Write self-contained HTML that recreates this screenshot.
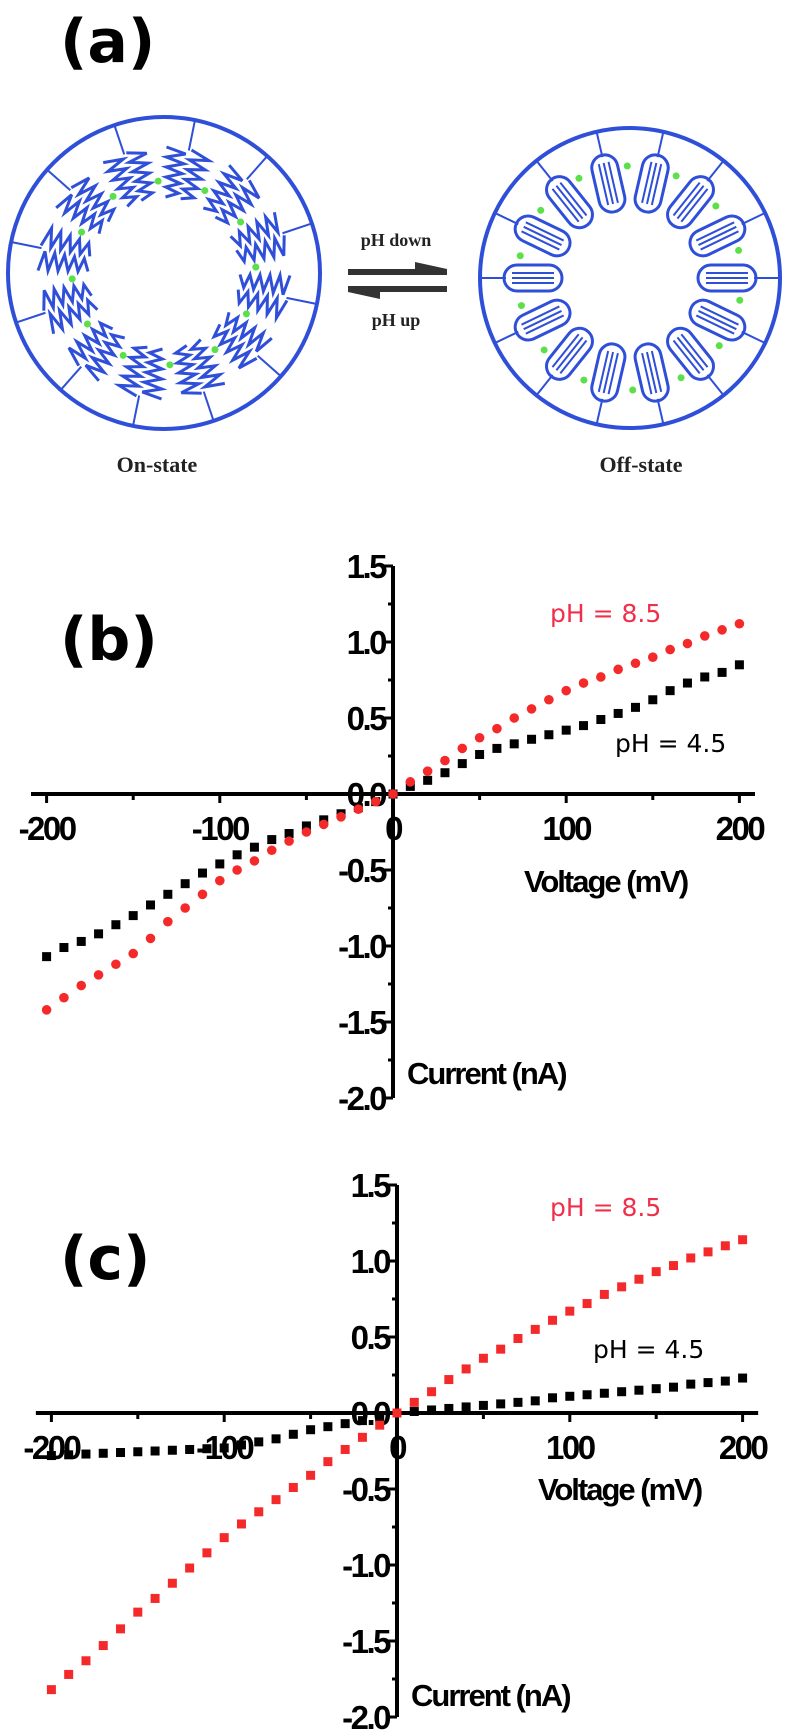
<!DOCTYPE html>
<html><head><meta charset="utf-8">
<style>
html,body{margin:0;padding:0;background:#fff;}
svg{display:block;}
.tk{font-family:"Liberation Sans",sans-serif;font-weight:bold;font-size:33px;letter-spacing:-2.5px;fill:#000;}
.ttl{font-family:"Liberation Sans",sans-serif;font-weight:bold;font-size:31px;letter-spacing:-2px;fill:#000;}
.ph{font-family:"DejaVu Sans","Liberation Sans",sans-serif;font-size:25px;}
.pl{font-family:"DejaVu Sans","Liberation Sans",sans-serif;font-weight:bold;font-size:60px;fill:#000;}
.serif{font-family:"Liberation Serif",serif;font-weight:bold;fill:#222;}
</style></head>
<body>
<svg id="fig" width="787" height="1733" viewBox="0 0 787 1733" xmlns="http://www.w3.org/2000/svg">
  <g id="panelA">
    <text class="pl" x="60" y="62">(a)</text>
    <circle cx="164" cy="273" r="156" fill="none" stroke="#2f4fd9" stroke-width="4"/>
    <circle cx="630" cy="278" r="150" fill="none" stroke="#2f4fd9" stroke-width="4"/>
    <g id="onPoly"></g>
    <g id="offPoly"></g>
    <text class="serif" x="396" y="246" font-size="18" text-anchor="middle">pH down</text>
    <g>
      <path d="M348 269 L447 269 L447 275 L348 275 Z M415 262 L447 269 L415 269 Z" fill="#333"/>
      <path d="M348 286 L447 286 L447 292 L348 292 Z M380 299 L348 292 L380 292 Z" fill="#333"/>
    </g>
    <text class="serif" x="396" y="326" font-size="18" text-anchor="middle">pH up</text>
    <text class="serif" x="157" y="472" font-size="22" text-anchor="middle">On-state</text>
    <text class="serif" x="641" y="472" font-size="22" text-anchor="middle">Off-state</text>
  </g>
  <g id="chartB"></g>
  <g id="chartC"></g>
</svg>
<script>
const voltages = [-200,-190,-180,-170,-160,-150,-140,-130,-120,-110,-100,-90,-80,-70,-60,-50,-40,-30,-20,-10,0,10,20,30,40,50,60,70,80,90,100,110,120,130,140,150,160,170,180,190,200];
const bRedPH85 = [-1.42,-1.34,-1.26,-1.19,-1.12,-1.05,-0.95,-0.84,-0.75,-0.66,-0.57,-0.50,-0.44,-0.37,-0.31,-0.25,-0.20,-0.15,-0.10,-0.05,0.00,0.08,0.15,0.22,0.30,0.37,0.43,0.50,0.56,0.62,0.68,0.73,0.77,0.82,0.86,0.90,0.95,0.99,1.04,1.08,1.12];
const bBlackPH45 = [-1.07,-1.01,-0.97,-0.92,-0.86,-0.80,-0.73,-0.66,-0.59,-0.52,-0.46,-0.40,-0.35,-0.30,-0.26,-0.21,-0.17,-0.13,-0.09,-0.05,0.00,0.05,0.09,0.14,0.20,0.26,0.30,0.33,0.36,0.39,0.42,0.45,0.49,0.53,0.57,0.62,0.68,0.73,0.77,0.80,0.85];
const cRedPH85 = [-1.82,-1.72,-1.63,-1.53,-1.42,-1.31,-1.22,-1.12,-1.02,-0.92,-0.82,-0.73,-0.65,-0.57,-0.49,-0.41,-0.32,-0.24,-0.16,-0.08,0.00,0.07,0.14,0.22,0.29,0.36,0.42,0.49,0.55,0.61,0.67,0.72,0.78,0.83,0.88,0.93,0.97,1.02,1.06,1.10,1.14];
const cBlackPH45 = [-0.28,-0.275,-0.27,-0.265,-0.26,-0.255,-0.25,-0.245,-0.24,-0.235,-0.23,-0.21,-0.19,-0.17,-0.14,-0.11,-0.09,-0.07,-0.05,-0.03,0.00,0.01,0.02,0.03,0.04,0.05,0.06,0.07,0.08,0.10,0.11,0.12,0.13,0.14,0.15,0.16,0.17,0.19,0.20,0.21,0.23];
const xTicks = [-200,-100,0,100,200];
const yTicks = [1.5,1.0,0.5,0.0,-0.5,-1.0,-1.5,-2.0];

const NS = "http://www.w3.org/2000/svg";
function mk(tag, attrs, parent){
  const e = document.createElementNS(NS, tag);
  for (const k in attrs) e.setAttribute(k, attrs[k]);
  parent.appendChild(e);
  return e;
}

function drawChart(gid, ax, panelLabel, redVals, blackVals, redShape){
  const g = document.getElementById(gid);
  const xs = v => ax.x0 + v * ax.kx;
  const ys = v => ax.y0 - v * ax.ky;
  const xl = mk('line', {x1:xs(-209), y1:ys(0), x2:xs(209), y2:ys(0), stroke:'#000','stroke-width':4}, g);
  
  
  const yl = mk('line', {x1:xs(0), y1:ys(1.5), x2:xs(0), y2:ys(-2.0), stroke:'#000','stroke-width':4}, g);
  
  
  for (let v = -200; v <= 200; v += 50) {
    const major = v % 100 === 0;
    const t = mk('line', {x1:xs(v), y1:ys(0), x2:xs(v), y2:ys(0)+(major?9:6), stroke:'#000','stroke-width':3}, g);
    
    
  }
  for (let v = -2.0; v <= 1.51; v += 0.25) {
    const major = Math.abs(v*2 - Math.round(v*2)) < 1e-6;
    const t = mk('line', {x1:xs(0)-(major?9:5), y1:ys(v), x2:xs(0), y2:ys(v), stroke:'#000','stroke-width':3}, g);
    
    
  }
  xTicks.forEach(v => {
    const t = mk('text', {x:xs(v), y:ys(0)+46, 'text-anchor':'middle', class:'tk'}, g);
    t.textContent = String(v);
    
    
  });
  yTicks.forEach(v => {
    const t = mk('text', {x:xs(0)-8, y:ys(v)+12, 'text-anchor':'end', class:'tk'}, g);
    t.textContent = v.toFixed(1);
    
    
  });
  const sb = mk('g', {}, g);
  
  
  voltages.forEach((v, i) => {
    const r = mk('rect', {x:xs(v)-4.5, y:ys(blackVals[i])-4.5, width:9, height:9, fill:'#000'}, sb);
    
    
  });
  const sr = mk('g', {}, g);
  
  
  voltages.forEach((v, i) => {
    let p;
    if (redShape === 'circle') p = mk('circle', {cx:xs(v), cy:ys(redVals[i]), r:4.8, fill:'#f42a2a'}, sr);
    else p = mk('rect', {x:xs(v)-4.5, y:ys(redVals[i])-4.5, width:9, height:9, fill:'#f42a2a'}, sr);
    
    
  });
  const pl = mk('text', {x:ax.lx, y:ax.ly, class:'pl'}, g);
  pl.textContent = panelLabel;
  
  
  const l1 = mk('text', {x:ax.r1x, y:ax.r1y, class:'ph', fill:'#f0304a'}, g);
  l1.textContent = 'pH = 8.5';
  
  
  const l2 = mk('text', {x:ax.b1x, y:ax.b1y, class:'ph', fill:'#000'}, g);
  l2.textContent = 'pH = 4.5';
  
  
  const xt = mk('text', {x:ax.vx, y:ax.vy, class:'ttl'}, g);
  xt.textContent = 'Voltage (mV)';
  
  
  const yt = mk('text', {x:xs(0)+14, y:ax.cy, class:'ttl'}, g);
  yt.textContent = 'Current (nA)';
  
  
}

drawChart('chartB', {x0:393, kx:1.732, y0:794, ky:152, lx:60, ly:660, r1x:550, r1y:622, b1x:615, b1y:752, vx:524, vy:892, cy:1084}, '(b)', bRedPH85, bBlackPH45, 'circle');
drawChart('chartC', {x0:397, kx:1.728, y0:1413, ky:152, lx:60, ly:1279, r1x:550, r1y:1216, b1x:593, b1y:1358, vx:538, vy:1500, cy:1706}, '(c)', cRedPH85, cBlackPH45, 'square');

(function(){
  const on = document.getElementById('onPoly');
  const blue = '#2f4fd9';
  const cx = 164, cy = 273;
  for (let i = 0; i < 12; i++) {
    const a = i * Math.PI * 2 / 12 + 0.2;
    const c = Math.cos(a), s = Math.sin(a);
    const anchor = mk('line', {x1:cx+c*156, y1:cy+s*156, x2:cx+c*125, y2:cy+s*125, stroke:blue, 'stroke-width':2}, on);
    
    
    for (let j = -1; j <= 1; j += 2) {
      let d = '';
      for (let k = 0; k <= 10; k++) {
        const rr = 126 - k * 5;
        const o = j*0.1 + (k % 2 ? 0.08 : -0.08);
        const px = cx + Math.cos(a+o)*rr, py = cy + Math.sin(a+o)*rr;
        d += (k ? ' L' : 'M') + px.toFixed(1) + ' ' + py.toFixed(1);
      }
      const p = mk('path', {d:d, fill:'none', stroke:blue, 'stroke-width':3}, on);
      
      
    }
    const dot = mk('circle', {cx:cx+Math.cos(a+0.26)*92, cy:cy+Math.sin(a+0.26)*92, r:3.5, fill:'#5be04a'}, on);
    
    
  }
  const off = document.getElementById('offPoly');
  const ox = 630, oy = 278;
  for (let i = 0; i < 14; i++) {
    const a = i * Math.PI * 2 / 14;
    const c = Math.cos(a), s = Math.sin(a);
    const ln = mk('line', {x1:ox+c*150, y1:oy+s*150, x2:ox+c*124, y2:oy+s*124, stroke:blue, 'stroke-width':2}, off);
    
    
    const deg = (a * 180 / Math.PI).toFixed(1);
    const tr = 'translate('+ox+' '+oy+') rotate('+deg+')';
    const hp = mk('rect', {x:68, y:-13, width:58, height:26, rx:13, fill:'none', stroke:blue, 'stroke-width':3, transform:tr}, off);
    
    
    [-5, 0, 5].forEach(dy => {
      const hl = mk('line', {x1:76, y1:dy, x2:118, y2:dy, stroke:blue, 'stroke-width':2, transform:tr}, off);
      
      
    });
    const dot = mk('circle', {cx:ox+Math.cos(a+0.2)*112, cy:oy+Math.sin(a+0.2)*112, r:3.5, fill:'#5be04a'}, off);
    
    
  }
})();
</script>
</body></html>
